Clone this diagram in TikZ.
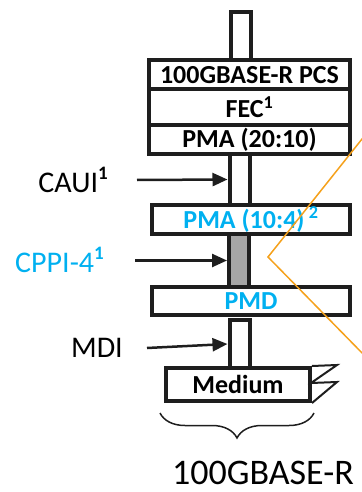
\documentclass[tikz,border=0pt]{standalone}
\usepackage{fontspec}
\setmainfont{Carlito}
\usetikzlibrary{arrows.meta,decorations.pathreplacing}
\definecolor{ink}{HTML}{1E1E1E}
\definecolor{lblue}{HTML}{00B0F0}
\definecolor{lorange}{HTML}{F5A11C}
\definecolor{lgrey}{HTML}{A6A6A6}
\newcommand{\supone}[1]{\raisebox{0.42em}{\fontsize{19}{20}\selectfont #1}}
\begin{document}
\begin{tikzpicture}[x=1pt, y=-1pt,
		layer/.style={draw=ink, line width=4pt, inner sep=0pt, minimum width=201pt, font=\fontsize{26}{28}\selectfont\bfseries},
		stub/.style={draw=ink, line width=4pt, inner sep=0pt, minimum width=20pt},
		iface/.style={draw=ink, line width=2.5pt, -{Triangle[length=15pt, width=13pt]}},
		side/.style={anchor=base east, inner sep=0pt, font=\fontsize{30}{32}\selectfont}]
		\useasboundingbox (0,0) rectangle (361,492);
		\node[stub, minimum height=48pt] (top) at (240.5,36) {};
		\node[stub, minimum height=51pt] (caui) at (239.5,179.5) {};
		\node[stub, minimum height=53pt, fill=lgrey] (cppi) at (239,260.5) {};
		\node[stub, minimum height=48pt] (mdi) at (239.5,344) {};
		\node[layer, minimum height=29.5pt] (pcs) at (249.5,74.75) {100GBASE-R PCS};
		\node[layer, minimum height=35.5pt] (fec) at (249.5,107.25) {FEC\textsuperscript{1}};
		\node[layer, minimum height=29pt] (pmahi) at (249.5,139.5) {PMA (20:10)};
		\node[layer, minimum height=29pt, minimum width=198.5pt, text=lblue] (pmalo) at (251,219.5) {PMA (10:4)\,\textsuperscript{2}};
		\node[layer, minimum height=28pt, minimum width=198.5pt, text=lblue] (pmd) at (251,301) {PMD};
		\node[layer, minimum height=33pt, minimum width=144pt] (medium) at (238,384.5) {Medium};
		\draw[ink, line width=2pt] (medium.north east) -- ++(25,-1) -- ++(-26,18) -- ++(26,-1) -- (medium.south east);
		\node[side] (cauilbl) at (108,192) {CAUI\supone{\bfseries 1}};
		\node[side, text=lblue] (cppilbl) at (104,272) {CPPI-4\supone{\bfseries 1}};
		\node[side] (mdilbl) at (123,357) {MDI};
		\coordinate (cauiin) at (137,180);
		\coordinate (cppiin) at (135,260.5);
		\coordinate (mdiin) at (147,348);
		\draw[iface] (cauiin) -- (caui.west);
		\draw[iface] (cppiin) -- (cppi.west);
		\draw[iface] (mdiin) -- (mdi.west);
		\draw[ink, line width=1.5pt, decorate, decoration={brace, mirror, amplitude=25pt}] ([xshift=-4pt, yshift=-10pt]medium.south west) -- ([xshift=2pt, yshift=-10pt]medium.south east);
		\node[anchor=base, inner sep=0pt, font=\fontsize{36}{40}\selectfont] (phy) at (263,484) {100GBASE-R};
		\coordinate (tip) at (268,257);
		\draw[lorange, line width=1.5pt] (366,134) -- (tip) -- (366,357);
	\end{tikzpicture}
\end{document}
